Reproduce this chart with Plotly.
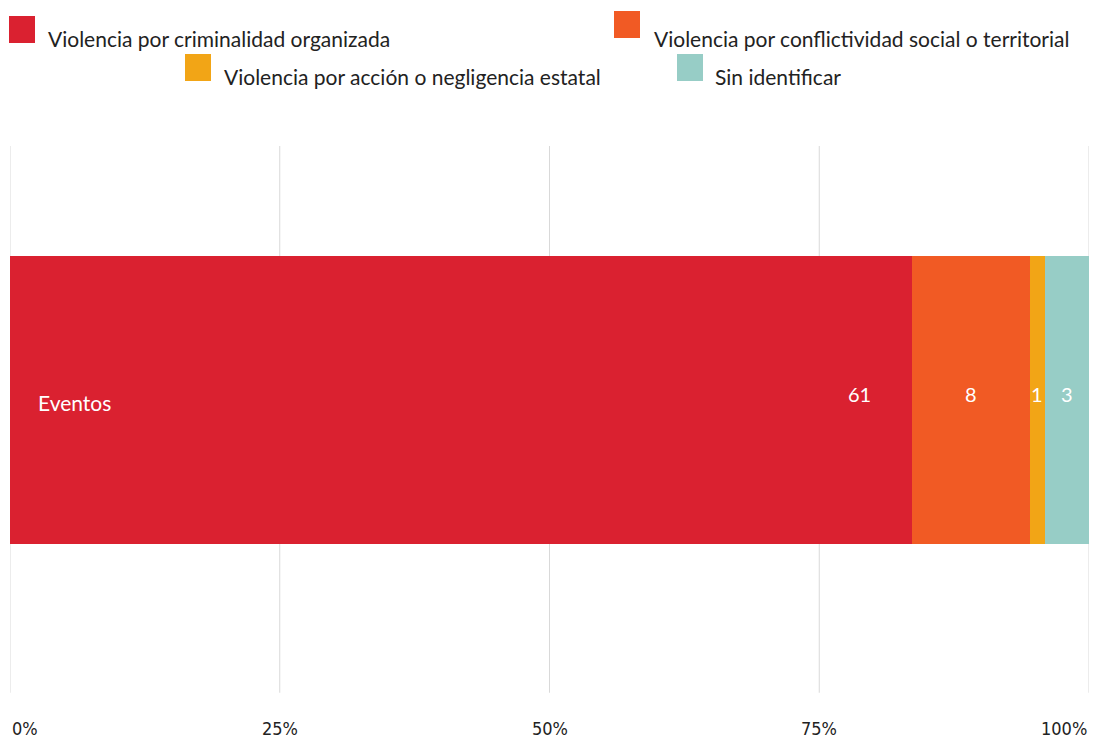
import plotly.graph_objects as go

categories = ["Eventos"]
series_names = [
    "Violencia por criminalidad organizada",
    "Violencia por conflictividad social o territorial",
    "Violencia por acción o negligencia estatal",
    "Sin identificar",
]
series_values = [61, 8, 1, 3]
colors = ["#DA2130", "#F15A24", "#F2A516", "#97CDC6"]
tick_vals = [0, 25, 50, 75, 100]
tick_labels = ["0%", "25%", "50%", "75%", "100%"]

total = sum(series_values)
fig = go.Figure()
for name, v, c in zip(series_names, series_values, colors):
    fig.add_trace(go.Bar(
        y=[0], x=[v / total * 100], orientation="h", name=name,
        marker=dict(color=c, line=dict(width=0)), width=1,
        showlegend=False, hoverinfo="name+x",
    ))

FONT = "Lato, 'Noto Sans', sans-serif"
ann = []
cum = 0
for i, v in enumerate(series_values):
    start = cum / total * 100
    end = (cum + v) / total * 100
    cum += v
    if i == 0:
        ann.append(dict(x=end, y=0.02, xref="x", yref="y", text=str(v), showarrow=False,
                        xanchor="center", xshift=-52,
                        font=dict(family=FONT, size=20, color="white")))
    else:
        ann.append(dict(x=(start + end) / 2, y=0.02, xref="x", yref="y", text=str(v), showarrow=False,
                        xanchor="center", font=dict(family=FONT, size=20, color="white")))
ann.append(dict(x=0, y=0, xref="x", yref="y", text=categories[0], showarrow=False,
                xanchor="left", xshift=26, yshift=-2, font=dict(family=FONT, size=21, color="white")))
for tv, tl in zip(tick_vals, tick_labels):
    xa = "left" if tv == 0 else ("right" if tv == 100 else "center")
    ann.append(dict(x=tv, y=0, xref="x", yref="paper", text=tl, showarrow=False,
                    xanchor=xa, yanchor="middle", yshift=-38,
                    font=dict(family="'DejaVu Sans Condensed', 'Liberation Sans Narrow', sans-serif",
                              size=18, color="#222")))

legend_pos = [(9, 16, 46, 39), (614, 11, 652, 39), (185, 54, 222, 76), (677, 54, 713, 76)]
shapes = []
for tv in tick_vals:
    shapes.append(dict(type="line", xref="x", yref="paper", x0=tv, x1=tv, y0=-0.005, y1=1,
                       line=dict(color="#D9D9D9", width=1), layer="below"))
for (sx, sy, tx, ty), name, c in zip(legend_pos, series_names, colors):
    shapes.append(dict(type="rect", xref="paper", yref="paper",
                       x0=(sx - 10) / 1079, x1=(sx + 26 - 10) / 1079,
                       y0=(690 - sy - 27) / 544, y1=(690 - sy) / 544,
                       fillcolor=c, line=dict(width=0), layer="above"))
    ann.append(dict(x=(tx - 10) / 1079, y=(690 - ty) / 544, xref="paper", yref="paper",
                    text=name, showarrow=False, xanchor="left", yanchor="middle",
                    font=dict(family=FONT, size=21, color="#222")))

fig.update_layout(
    barmode="stack",
    width=1093, height=738,
    margin=dict(l=10, r=4, t=146, b=48),
    plot_bgcolor="white", paper_bgcolor="white",
    xaxis=dict(range=[0, 100], tickvals=tick_vals, showticklabels=False,
               showgrid=False, zeroline=False, showline=False, fixedrange=True),
    yaxis=dict(range=[-1.007, 0.882], showticklabels=False, showgrid=False,
               zeroline=False, showline=False, fixedrange=True),
    annotations=ann, shapes=shapes,
    showlegend=False,
)
fig.write_html("out.html", config={"displayModeBar": False},
               post_script="document.body.style.margin='0';document.body.style.overflow='hidden';")
